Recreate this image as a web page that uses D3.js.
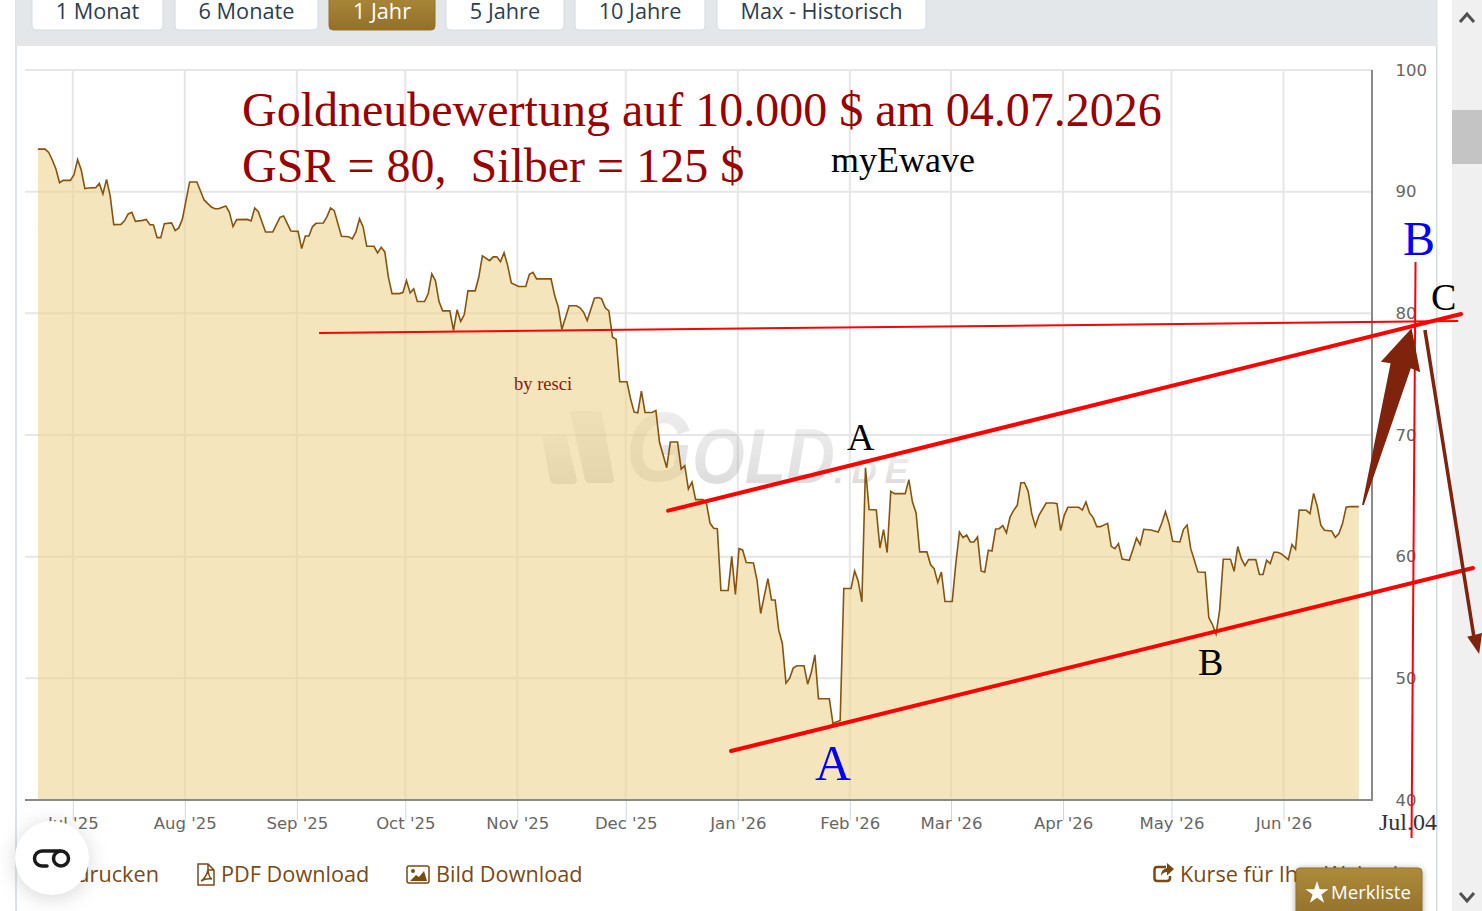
<!DOCTYPE html>
<html>
<head>
<meta charset="utf-8">
<title>Goldneubewertung</title>
<script src="https://cdn.jsdelivr.net/npm/d3@7"></script>
<style>
  html, body { margin: 0; padding: 0; background: #fff; overflow: hidden; }
  svg { display: block; }
  .ax text { font-family: "DejaVu Sans", sans-serif; font-size: 16.5px; fill: #666; }
  .ui { font-family: "Open Sans", sans-serif; }
  .anno { font-family: "Liberation Serif", serif; }
</style>
</head>
<body>
<div id="graph-container"></div>
<script>
// Tage seit dem ersten Kurs (21.06.2025)
const dayNumbers = [
  0,2,3,4,5,6,7,9,10,11,12,13,14,16,17,18,19,20,21,23,24,25,26,27,29,30,31,32,33,34,35,37,38,39,40,42,44,46,48,49,
  50,52,53,54,55,58,59,60,61,63,65,67,68,70,72,73,74,75,76,77,79,80,81,82,84,86,87,88,89,90,91,93,94,95,96,97,98,100,
  101,102,103,104,105,107,108,109,110,111,112,114,115,116,117,118,119,121,122,123,125,126,127,128,129,130,131,133,135,
  136,137,138,142,143,144,145,147,149,150,151,152,154,155,156,157,158,159,160,161,163,164,165,166,167,168,170,171,172,
  174,175,177,178,179,180,181,182,184,185,186,187,188,189,191,192,193,194,195,196,198,199,200,202,203,204,205,206,207,
  208,209,210,212,213,214,215,216,219,220,222,223,225,226,227,228,229,230,232,233,234,235,236,237,240,241,242,243,244,
  246,247,248,249,250,251,253,254,255,256,257,258,259,260,261,262,263,264,265,266,267,268,269,270,271,272,273,274,275,
  276,277,279,281,282,283,284,285,288,289,290,291,292,293,294,296,297,298,299,300,302,303,304,305,306,308,310,311,312,
  313,314,316,317,318,319,321,323,324,325,326,327,328,330,331,332,333,334,335,337,338,339,340,341,342,343,344,346,347,
  348,349,351,352,353,354,355,356,358,359,360,361,362,363,365.5
];

// Kurs je Punkt
const prices = [
  93.50,93.50,93.23,92.60,91.86,90.74,90.93,90.93,91.39,92.63,91.78,90.25,90.30,90.33,90.68,89.81,91.01,89.67,87.29,87.31,
  87.62,88.17,88.30,87.56,87.64,87.72,87.29,87.26,86.22,86.22,87.37,87.43,86.80,87.02,87.76,90.80,90.80,89.32,88.74,88.60,
  88.60,88.83,88.30,87.13,87.70,87.72,87.59,88.66,88.36,86.69,86.69,87.89,88.00,86.77,86.74,85.32,86.36,86.36,87.13,87.40,
  87.43,87.95,88.66,88.44,86.33,86.30,86.12,86.69,87.78,87.10,85.51,85.51,84.97,85.43,85.05,82.96,81.62,81.62,
  81.71,82.69,81.68,82.01,80.97,80.97,81.60,83.24,82.69,80.97,80.20,80.20,78.59,80.29,79.33,79.90,81.85,81.85,82.96,84.72,
  84.33,84.64,84.64,84.25,84.99,83.92,82.50,82.20,82.20,83.21,83.37,82.83,82.83,81.46,80.50,78.69,80.62,80.62,80.45,80.09,
  79.41,81.24,81.30,81.19,80.45,80.20,78.04,77.87,74.38,74.38,72.98,71.88,71.83,73.60,71.85,71.85,72.02,69.42,
  67.31,69.42,69.42,67.20,67.48,65.56,66.13,64.69,64.69,64.38,62.74,62.33,62.29,57.22,57.22,60.03,56.89,60.66,60.55,59.52,
  59.48,58.06,55.33,58.20,56.44,56.44,53.96,52.87,49.61,49.99,50.84,51.03,51.03,49.52,50.48,51.93,48.32,48.32,46.30,46.54,
  57.38,57.38,58.83,57.98,56.28,67.31,63.87,63.83,60.71,62.22,60.34,65.37,65.18,65.18,66.33,64.49,63.59,60.39,60.39,59.35,
  59.02,57.87,58.74,56.31,56.31,59.43,62.03,61.57,61.78,61.21,61.21,61.62,58.83,58.72,60.53,60.47,62.27,62.30,62.55,61.95,
  63.26,63.81,64.22,66.08,66.08,65.39,63.54,62.50,63.40,64.41,64.41,64.36,62.14,63.40,64.06,64.06,63.83,64.49,63.59,63.21,
  62.47,62.47,62.74,60.85,60.66,61.07,59.81,59.70,60.58,61.53,60.99,62.25,62.19,62.03,62.77,63.70,62.72,61.26,61.21,62.25,
  62.60,60.66,58.74,58.72,55.00,54.42,53.63,55.60,59.79,59.79,58.80,60.83,59.84,59.27,59.76,59.76,58.53,58.53,59.70,59.43,
  60.36,60.36,60.25,59.76,60.99,60.61,63.83,63.81,63.54,65.20,64.14,62.58,62.17,62.11,61.59,61.90,62.72,64.06,64.11,64.11
];

const priceTicks = [40, 50, 60, 70, 80, 90, 100];
const monthTicks = [
  "2025-07-01","2025-08-01","2025-09-01","2025-10-01","2025-11-01","2025-12-01",
  "2026-01-01","2026-02-01","2026-03-01","2026-04-01","2026-05-01","2026-06-01"
];

// Eingezeichnete Linien: [Tag, Kurs] Anfang und Ende
const thinLines = [
  [[77.8, 78.38], [393.0, 79.37]],
  [[381.2, 84.22], [380.1, 36.88]]
];
const channelLines = [
  [[174.4, 63.78], [393.8, 79.94]],
  [[191.8, 44.03], [397.1, 59.07]]
];
const bigArrow = [[366.4,64.25],[374.3,75.89],[371.6,76.02],[380.1,78.77],[382.5,75.15],[379.9,75.48],[366.9,64.25]];
const thinArrowShaft = [[383.8,78.63],[397.4,53.31]];
const thinArrowHead = [[395.5,53.42],[399.6,53.73],[398.8,52.00]];

const rangeButtons = ["1 Monat","6 Monate","1 Jahr","5 Jahre","10 Jahre","Max - Historisch"];
const buttonEdges = [[32,163],[175,318],[329,435],[446,564],[575,705],[717,926]];

const width = 1482, height = 911;
const svg = d3.select("#graph-container").append("svg")
  .attr("width", width).attr("height", height).attr("viewBox", `0 0 ${width} ${height}`);

const defs = svg.append("defs");
function gradient(id, stops) {
  const g = defs.append("linearGradient").attr("id", id).attr("x1", 0).attr("x2", 0).attr("y1", 0).attr("y2", 1);
  stops.forEach(s => g.append("stop").attr("offset", s[0]).attr("stop-color", s[1]).attr("stop-opacity", s[2] === undefined ? 1 : s[2]));
}
gradient("gold", [[0, "#ac8b3c"], [1, "#927029"]]);
gradient("mark", [[0, "#888", 0.12], [1, "#666", 0.26]]);

// Seitenhintergrund
svg.append("rect").attr("x", 15).attr("y", 0).attr("width", 2).attr("height", height).attr("fill", "#dfe3e8");
svg.append("rect").attr("x", 1436).attr("y", 0).attr("width", 1.5).attr("height", height).attr("fill", "#d5dbe3");
svg.append("rect").attr("x", 16).attr("y", 0).attr("width", 1421).attr("height", 46).attr("fill", "#e3e7ea");
svg.append("rect").attr("x", 1452).attr("y", 0).attr("width", 30).attr("height", height).attr("fill", "#f0f0f0");
svg.append("rect").attr("x", 1452).attr("y", 110).attr("width", 30).attr("height", 54).attr("fill", "#c4c4c4");
svg.append("path").attr("d", "M1460 22 L1467 14 L1474 22").attr("fill", "none").attr("stroke", "#505050").attr("stroke-width", 3);
svg.append("path").attr("d", "M1460 893 L1467 901 L1474 893").attr("fill", "none").attr("stroke", "#505050").attr("stroke-width", 3);

// Buttons oben
rangeButtons.forEach((label, i) => {
  const [x0, x1] = buttonEdges[i];
  const active = label === "1 Jahr";
  svg.append("rect").attr("x", x0).attr("y", -8).attr("width", x1 - x0).attr("height", 38).attr("rx", 4)
    .attr("fill", active ? "url(#gold)" : "#fff").attr("stroke", active ? "#94722c" : "#d3dae2");
  svg.append("text").attr("class", "ui").attr("x", (x0 + x1) / 2).attr("y", 18.7).attr("text-anchor", "middle")
    .attr("font-size", 21.7).attr("fill", active ? "#fff" : "#2c3e50").text(label);
});

// Skalen
const plot = { left: 25, right: 1372, top: 70, bottom: 800 };
const x = d3.scaleUtc()
  .domain([Date.UTC(2025, 6, 1), Date.UTC(2026, 5, 1)])
  .range([72.8, 1283.5]);
const y = d3.scaleLinear().domain([40, 100]).range([plot.bottom, plot.top]);
const firstDay = Date.UTC(2025, 5, 21, 8);
const dayX = d => x(new Date(firstDay + d * 864e5));
const pt = p => [dayX(p[0]), y(p[1])];
const monthDates = monthTicks.map(d => new Date(d + "T00:00:00Z"));

// Gitter
svg.append("g").selectAll("line").data(priceTicks.filter(v => v > 40)).enter().append("line")
  .attr("x1", plot.left).attr("x2", plot.right).attr("y1", d => y(d)).attr("y2", d => y(d))
  .attr("stroke", "#e6e6e6").attr("stroke-width", 2);
svg.append("g").selectAll("line").data(monthDates).enter().append("line")
  .attr("x1", d => x(d)).attr("x2", d => x(d)).attr("y1", plot.top).attr("y2", plot.bottom)
  .attr("stroke", "#e6e6e6").attr("stroke-width", 2);

// Wasserzeichen
const mark = svg.append("g").attr("pointer-events", "none")
  .attr("font-family", "'Liberation Sans', sans-serif").attr("font-weight", "bold").attr("font-style", "italic")
  .attr("fill", "url(#mark)");
mark.append("path").attr("d", "M542 437 L566 435 L577 480 Q577 484 572 484 L556 484 Q551 484 550 480 Z");
mark.append("path").attr("d", "M570 411 L598 411 Q601 411 602 414 L614 480 Q614 483 610 483 L590 483 Q586 483 585 480 Z");
mark.append("text").attr("x", 626).attr("y", 481).attr("font-size", 98)
  .attr("textLength", 66).attr("lengthAdjust", "spacingAndGlyphs").text("G");
mark.append("text").attr("x", 692).attr("y", 483).attr("font-size", 78)
  .attr("textLength", 143).attr("lengthAdjust", "spacingAndGlyphs").text("OLD");
mark.append("text").attr("x", 834).attr("y", 483).attr("font-size", 35)
  .attr("textLength", 74).text(".DE");

// Kursfläche und Kurslinie
const series = dayNumbers.map((d, i) => ({ day: d, price: prices[i] }));
const area = d3.area().x(d => dayX(d.day)).y0(plot.bottom).y1(d => y(d.price));
const line = d3.line().x(d => dayX(d.day)).y(d => y(d.price));
svg.append("path").datum(series).attr("d", area).attr("fill", "rgb(237,212,145)").attr("fill-opacity", 0.6);
svg.append("path").datum(series).attr("d", line).attr("fill", "none").attr("stroke", "#86540f").attr("stroke-width", 1.6);

// Achsen
const xAxis = d3.axisBottom(x).tickValues(monthDates).tickFormat(d3.utcFormat("%b '%y")).tickSize(20);
const xg = svg.append("g").attr("class", "ax").attr("transform", `translate(0,${plot.bottom})`).call(xAxis);
xg.select(".domain").remove();
xg.selectAll("line").attr("stroke", "#ccd6eb");
xg.selectAll("text").attr("dy", "0.32em").attr("y", 23.5);
svg.append("path").attr("d", `M${plot.left} ${plot.bottom} H${plot.right} V${plot.top}`)
  .attr("fill", "none").attr("stroke", "#8a8a8a").attr("stroke-width", 2);

const yAxis = d3.axisRight(y).tickValues(priceTicks).tickSize(0).tickPadding(0);
const yg = svg.append("g").attr("class", "ax").attr("transform", "translate(1395.5,0)").call(yAxis);
yg.select(".domain").remove();

// Handgezeichnete Linien
thinLines.forEach(l => {
  svg.append("line").attr("x1", pt(l[0])[0]).attr("y1", pt(l[0])[1]).attr("x2", pt(l[1])[0]).attr("y2", pt(l[1])[1])
    .attr("stroke", "#ff0000").attr("stroke-width", 2);
});
channelLines.forEach(l => {
  svg.append("line").attr("x1", pt(l[0])[0]).attr("y1", pt(l[0])[1]).attr("x2", pt(l[1])[0]).attr("y2", pt(l[1])[1])
    .attr("stroke", "#ff0000").attr("stroke-width", 4).attr("stroke-linecap", "round");
});
const arrowColor = "#80230d";
svg.append("polygon").attr("points", bigArrow.map(pt).join(" ")).attr("fill", arrowColor);
svg.append("line").attr("x1", pt(thinArrowShaft[0])[0]).attr("y1", pt(thinArrowShaft[0])[1])
  .attr("x2", pt(thinArrowShaft[1])[0]).attr("y2", pt(thinArrowShaft[1])[1])
  .attr("stroke", arrowColor).attr("stroke-width", 3.5);
svg.append("polygon").attr("points", thinArrowHead.map(pt).join(" ")).attr("fill", arrowColor);

// Beschriftungen im Chart
const notes = [
  ["Goldneubewertung auf 10.000 $ am 04.07.2026", 242, 126, 48, "#990000"],
  ["GSR = 80,  Silber = 125 $", 242, 182, 48, "#990000"],
  ["myEwave", 831, 172, 36, "#000"],
  ["by resci", 514, 390, 18.5, "#8a1c10"],
  ["A", 847, 450, 38, "#000"],
  ["A", 815, 780, 50, "#0000ff"],
  ["B", 1198, 675, 38, "#000"],
  ["B", 1403, 255, 48, "#0000ff"],
  ["C", 1431, 310, 38, "#000"],
  ["Jul.04", 1379, 830, 24, "#333"]
];
svg.append("g").attr("class", "anno").selectAll("text").data(notes).enter().append("text")
  .attr("x", d => d[1]).attr("y", d => d[2]).attr("font-size", d => d[3]).attr("fill", d => d[4])
  .style("white-space", "pre").text(d => d[0]);

// Fußzeile
const brown = "#7a4a14";
const footer = svg.append("g").attr("class", "ui").attr("font-size", 21.7).attr("fill", brown);
footer.append("text").attr("x", 159).attr("y", 882).attr("text-anchor", "end").text("drucken");
footer.append("text").attr("x", 221).attr("y", 882).text("PDF Download");
footer.append("text").attr("x", 436).attr("y", 882).text("Bild Download");
footer.append("text").attr("x", 1180).attr("y", 882).text("Kurse für Ihre Webseite");

// PDF-Symbol
svg.append("path").attr("d", "M198 864 H208 L214 870 V885 H198 Z M208 864 V870 H214 M201 881 Q206 878 208 870 Q209 878 212 879 Q206 878 201 881")
  .attr("fill", "#fff").attr("stroke", brown).attr("stroke-width", 1.5);
// Bild-Symbol
svg.append("rect").attr("x", 407).attr("y", 866).attr("width", 22).attr("height", 17).attr("rx", 2)
  .attr("fill", "#fff").attr("stroke", brown).attr("stroke-width", 1.5);
svg.append("path").attr("d", "M410 881 L416 875 L419 877 L424 871 L427 881 Z").attr("fill", brown);
svg.append("circle").attr("cx", 413).attr("cy", 871).attr("r", 2).attr("fill", brown);
// Teilen-Symbol
svg.append("path").attr("d", "M1166 867 H1157 Q1154.5 867 1154.5 870 V878 Q1154.5 881 1157 881 H1167 Q1170 881 1170 878 V876")
  .attr("fill", "none").attr("stroke", brown).attr("stroke-width", 2.5);
svg.append("path").attr("d", "M1161 876 Q1161 869 1167 868 V863 L1174 869 L1167 875.5 V872 Q1163 872 1161 876 Z").attr("fill", brown);

// Merkliste
svg.append("rect").attr("x", 1296).attr("y", 868).attr("width", 126).attr("height", 50).attr("rx", 4)
  .attr("fill", "url(#gold)").attr("stroke", "#94722c").style("filter", "drop-shadow(0 1px 3px rgba(0,0,0,.35))");
svg.append("path").attr("d", d3.symbol().type(d3.symbolStar).size(165)).attr("transform", "translate(1317,893)").attr("fill", "#fff");
svg.append("text").attr("class", "ui").attr("x", 1331).attr("y", 899).attr("font-size", 18.6).attr("fill", "#fff").text("Merkliste");

// Runder Knopf unten links
svg.append("circle").attr("cx", 52).attr("cy", 858).attr("r", 37).attr("fill", "#fff")
  .style("filter", "drop-shadow(0 3px 10px rgba(0,0,0,.16))");
svg.append("path").attr("d", "M60 851 H42 a7.5 7.5 0 0 0 0 15 H47").attr("fill", "none").attr("stroke", "#1a1a1a").attr("stroke-width", 3.5).attr("stroke-linecap", "round");
svg.append("circle").attr("cx", 61).attr("cy", 858.5).attr("r", 7.5).attr("fill", "none").attr("stroke", "#1a1a1a").attr("stroke-width", 3.5);
</script>
</body>
</html>
